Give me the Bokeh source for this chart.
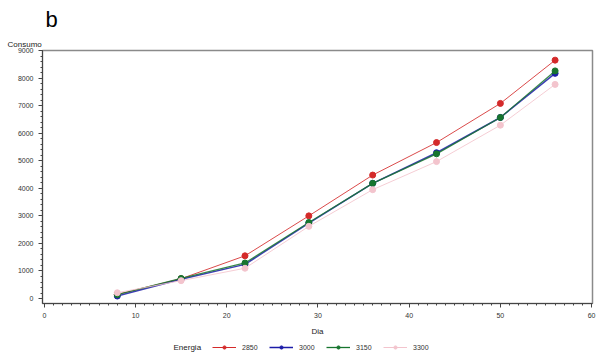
from bokeh.plotting import figure
from bokeh.models import Range1d, Legend, LegendItem, Label, FixedTicker, Title
from bokeh.layouts import column
from bokeh.embed import file_html
from bokeh.resources import INLINE

dia = [8, 15, 22, 29, 36, 43, 50, 56]
e2850 = [150, 720, 1550, 3000, 4480, 5660, 7080, 8650]
e3000 = [90, 700, 1240, 2740, 4180, 5290, 6570, 8170]
e3150 = [140, 730, 1290, 2760, 4180, 5250, 6570, 8260]
e3300 = [210, 650, 1100, 2620, 3950, 4970, 6290, 7770]
series = [("2850", e2850, "#D42A2A", 1), ("3000", e3000, "#1C1CA8", 1.5), ("3150", e3150, "#17752E", 1.3), ("3300", e3300, "#F3C4CD", 1)]
xticks = [0, 10, 20, 30, 40, 50, 60]
yticks = [0, 1000, 2000, 3000, 4000, 5000, 6000, 7000, 8000, 9000]

FONT = "Liberation Sans"
p = figure(width=600, height=338, output_backend="svg", toolbar_location=None,
           x_range=Range1d(-0.2, 60.1), y_range=Range1d(-180, 9000),
           min_border_left=42, min_border_right=8, min_border_top=46, min_border_bottom=32)
p.grid.visible = False
p.outline_line_color = "#8a8a8a"
p.outline_line_width = 1.5
p.background_fill_color = "white"

for name, ys, col, w in series:
    p.line(dia, ys, line_color=col, line_width=w, line_alpha=0.85)
    p.scatter(dia, ys, size=6, fill_color=col, line_color=col)

for ax in (p.xaxis[0], p.yaxis[0]):
    ax.axis_line_color = "#444444"
    ax.major_tick_line_color = "#444444"
    ax.minor_tick_line_color = "#444444"
    ax.major_label_text_font = FONT
    ax.major_label_text_font_size = "7px"
    ax.major_label_text_color = "#333333"
    ax.major_tick_out = 4
    ax.major_tick_in = 0
    ax.minor_tick_out = 2
    ax.minor_tick_in = 0

p.xaxis.ticker = FixedTicker(ticks=xticks, minor_ticks=list(range(0, 61)))
p.yaxis.ticker = FixedTicker(ticks=yticks, minor_ticks=list(range(0, 9001, 200)))
p.xaxis.axis_label = "Dia"
p.xaxis.axis_label_text_font = FONT
p.xaxis.axis_label_text_font_style = "normal"
p.xaxis.axis_label_text_font_size = "8px"
p.xaxis.axis_label_text_color = "#222222"
p.xaxis.axis_label_standoff = 6

# "b" on top, "Consumo" nearest the frame
p.title.text = "b"
p.title.text_font = FONT
p.title.text_font_size = "22px"
p.title.text_font_style = "normal"
p.title.text_color = "black"
p.title.align = "left"
p.title.offset = 3
p.title.standoff = 8
p.add_layout(Title(text="Consumo", text_font=FONT, text_font_size="8px", text_font_style="normal",
                   text_color="#222222", align="left", offset=-35, standoff=4), "above")

# legend strip below the chart (its frame is aligned with the chart's frame: x 42..592)
lg = figure(width=600, height=15, output_backend="svg", toolbar_location=None,
            x_range=Range1d(-1000, -999), y_range=Range1d(-1000, -999),
            min_border=0, min_border_left=0, min_border_right=0, min_border_top=0, min_border_bottom=0)
lg.axis.visible = False
lg.grid.visible = False
lg.outline_line_color = None
items = []
for name, ys, col, w in series:
    # same data, drawn outside this strip's visible range: only the legend swatches show
    r1 = lg.line(dia, ys, line_color=col, line_width=w)
    r2 = lg.scatter(dia, ys, size=6, fill_color=col, line_color=col)
    items.append(LegendItem(label=name, renderers=[r1, r2]))
legend = Legend(items=items, orientation="horizontal",
                label_text_font=FONT, label_text_font_size="7px", label_text_color="#333333",
                glyph_width=24, glyph_height=8, spacing=7, padding=2, margin=0,
                border_line_color=None, label_standoff=6, location=(170, 2),
                background_fill_alpha=0)
lg.add_layout(legend)
lg.add_layout(Label(x=131, y=6, x_units="screen", y_units="screen", text="Energia",
                    text_font=FONT, text_font_size="8px", text_color="#222222",
                    text_baseline="middle"))

open("out.html", "w").write(file_html(column(p, lg, spacing=0), INLINE))
